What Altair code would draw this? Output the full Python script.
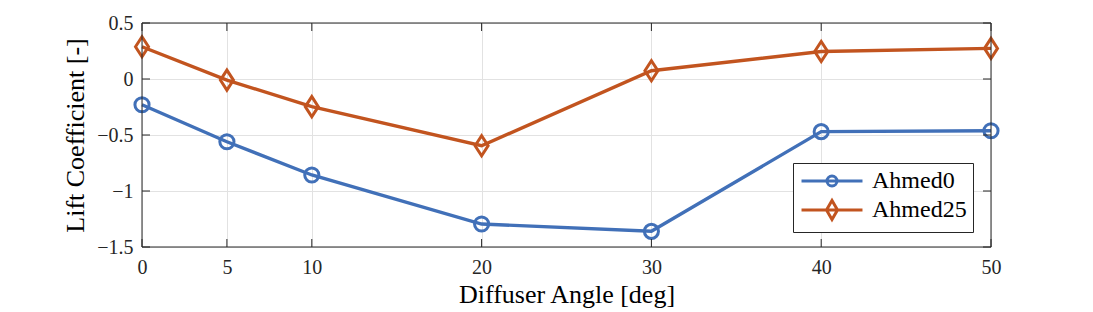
import altair as alt
import pandas as pd

# ---- data ----
angles = [0, 5, 10, 20, 30, 40, 50]
ahmed0 = [-0.23, -0.56, -0.857, -1.295, -1.36, -0.47, -0.462]
ahmed25 = [0.288, -0.01, -0.247, -0.596, 0.074, 0.246, 0.273]
series_names = ["Ahmed0", "Ahmed25"]
series_colors = ["#4170B8", "#C2541F"]
x_ticks = [0, 5, 10, 20, 30, 40, 50]
y_ticks = [-1.5, -1.0, -0.5, 0.0, 0.5]
x_title = "Diffuser Angle [deg]"
y_title = "Lift Coefficient [-]"

# ---- styling ----
W, H = 849, 224
FONT = "Liberation Serif"
INK = "#262626"
DIAMOND = "M-0.92,0L0,-1.42L0.92,0L0,1.42Z"
LEG0 = "M-4.69,0L4.69,0M0.77,0A0.77,0.77 0 1,1 -0.77,0A0.77,0.77 0 1,1 0.77,0"
LEG25 = "M-4.69,0L4.69,0M-0.85,0L0,-1.46L0.85,0L0,1.46Z"

rows = []
for a, v in zip(angles, ahmed0):
    rows.append({"angle": a, "cl": v, "series": series_names[0]})
for a, v in zip(angles, ahmed25):
    rows.append({"angle": a, "cl": v, "series": series_names[1]})
df = pd.DataFrame(rows)
xt_df = pd.DataFrame({"angle": x_ticks})
yt_df = pd.DataFrame({"cl": y_ticks})

xscale = alt.Scale(domain=[0, 50], nice=False, zero=False)
yscale = alt.Scale(domain=[-1.5, 0.5], nice=False, zero=False)
color_scale = alt.Scale(domain=series_names, range=series_colors)

x_axis = alt.Axis(values=x_ticks, format="d", title=x_title, labelFlush=False,
                  labelPadding=10, titlePadding=4)
y_axis = alt.Axis(values=y_ticks, format=".1~f", title=y_title, labelFlush=False,
                  labelPadding=9, titlePadding=8)
x_enc = alt.X("angle:Q", scale=xscale, axis=x_axis)
y_enc = alt.Y("cl:Q", scale=yscale, axis=y_axis)

base = alt.Chart(df)

lines = base.mark_line(strokeWidth=3.4).encode(
    x=x_enc, y=y_enc,
    color=alt.Color("series:N", scale=color_scale, legend=None),
)

points = base.mark_point(filled=False, strokeWidth=3, size=200, opacity=1).encode(
    x=x_enc, y=y_enc,
    color=alt.Color("series:N", scale=color_scale, legend=None),
    shape=alt.condition("datum.series == 'Ahmed0'", alt.value("circle"), alt.value(DIAMOND)),
)

leg = alt.Legend(
    title=None, orient="none", legendX=651, legendY=140,
    fillColor="white", strokeColor=INK, padding=6, rowPadding=1,
    labelFont=FONT, labelFontSize=24, labelColor="black",
    symbolSize=169, symbolStrokeWidth=3, symbolOffset=21, labelOffset=28,
    symbolFillColor="transparent",
    symbolStrokeColor={"expr": "scale('color', datum.value)"},
)
legend_layer = base.transform_filter("false").mark_point(
    filled=False, strokeWidth=3, opacity=1
).encode(
    x=x_enc, y=y_enc,
    color=alt.Color("series:N", scale=color_scale, legend=None),
    shape=alt.Shape("series:N", scale=alt.Scale(domain=series_names, range=[LEG0, LEG25]), legend=leg),
)

bottom_ticks = alt.Chart(xt_df).mark_rule(color=INK, strokeWidth=1).encode(
    x=x_enc, y=alt.value(H), y2=alt.value(H - 8))
top_ticks = alt.Chart(xt_df).mark_rule(color=INK, strokeWidth=1).encode(
    x=x_enc, y=alt.value(0), y2=alt.value(8))
left_ticks = alt.Chart(yt_df).mark_rule(color=INK, strokeWidth=1).encode(
    y=y_enc, x=alt.value(0), x2=alt.value(8))
right_ticks = alt.Chart(yt_df).mark_rule(color=INK, strokeWidth=1).encode(
    y=y_enc, x=alt.value(W), x2=alt.value(W - 8))

box_df = pd.DataFrame({"angle": [0, 50]})
box_v = alt.Chart(box_df).mark_rule(color=INK, strokeWidth=1).encode(
    x=x_enc, y=alt.value(0), y2=alt.value(H))
ybox_df = pd.DataFrame({"cl": [-1.5, 0.5]})
box_h = alt.Chart(ybox_df).mark_rule(color=INK, strokeWidth=1).encode(
    y=y_enc, x=alt.value(0), x2=alt.value(W))

chart = alt.layer(
    lines, points, legend_layer,
    bottom_ticks, top_ticks, left_ticks, right_ticks, box_v, box_h,
).resolve_scale(shape="independent").properties(
    width=W, height=H,
    padding={"left": 134, "top": 15, "right": 20, "bottom": 65},
    autosize=alt.AutoSizeParams(type="none"),
).configure_view(
    stroke=None
).configure_axis(
    domain=False, ticks=False, grid=True, gridColor="#e2e2e2", gridWidth=1,
    labelFont=FONT, labelFontSize=20, labelColor=INK,
    titleFont=FONT, titleFontSize=26, titleFontWeight="normal", titleColor="black",
)

chart.save("out.html", embed_options={"renderer": "svg", "actions": False})
